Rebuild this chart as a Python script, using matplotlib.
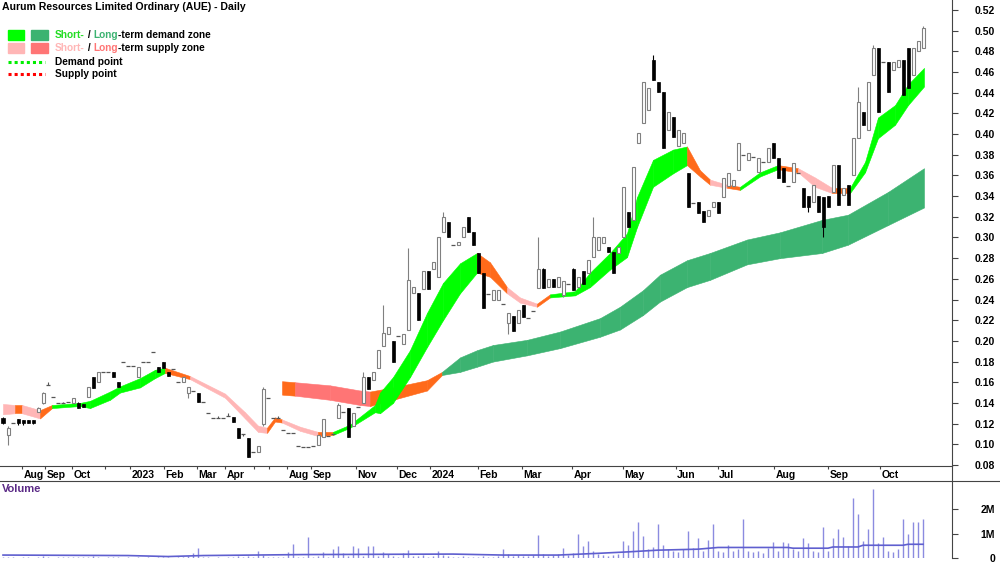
import numpy as np
import matplotlib
matplotlib.use("Agg")
import matplotlib.pyplot as plt
from matplotlib.patches import Rectangle
from matplotlib.lines import Line2D

plt.rcParams['font.family'] = ['Liberation Sans Narrow', 'Liberation Sans', 'DejaVu Sans']
plt.rcParams['font.weight'] = 'bold'

title = "Aurum Resources Limited Ordinary (AUE) - Daily"

# daily bars (trading-day index), prices in $
opens = [0.125, 0.109, 0.121, 0.124, 0.123, 0.123, 0.123, 0.131, 0.140, 0.157,
         0.146, 0.140, 0.140, 0.141, 0.140, 0.140, 0.139, 0.146, 0.165, 0.160,
         0.170, 0.170, 0.170, 0.160, 0.180, 0.176, 0.176, 0.165, 0.180, 0.180,
         0.189, 0.175, 0.180, 0.170, 0.173, 0.160, 0.160, 0.150, 0.152, 0.150,
         0.141, 0.130, 0.125, 0.125, 0.125, 0.127, 0.126, 0.116, 0.110, 0.106,
         0.093, 0.093, 0.120, 0.145, 0.125, 0.125, 0.114, 0.111, 0.111, 0.098,
         0.097, 0.097, 0.098, 0.099, 0.107, 0.108, 0.110, 0.125, 0.131, 0.135,
         0.118, 0.136, 0.140, 0.165, 0.162, 0.174, 0.195, 0.207, 0.200, 0.205,
         0.197, 0.211, 0.246, 0.246, 0.250, 0.268, 0.270, 0.262, 0.305, 0.315,
         0.293, 0.293, 0.300, 0.320, 0.305, 0.285, 0.266, 0.245, 0.240, 0.240,
         0.236, 0.217, 0.224, 0.217, 0.235, 0.222, 0.229, 0.251, 0.270, 0.252,
         0.260, 0.252, 0.244, 0.255, 0.270, 0.252, 0.268, 0.266, 0.281, 0.288,
         0.295, 0.291, 0.286, 0.285, 0.300, 0.325, 0.317, 0.391, 0.411, 0.423,
         0.472, 0.450, 0.441, 0.404, 0.417, 0.388, 0.391, 0.362, 0.333, 0.334,
         0.326, 0.321, 0.329, 0.334, 0.339, 0.350, 0.350, 0.365, 0.380, 0.375,
         0.378, 0.363, 0.373, 0.373, 0.391, 0.377, 0.367, 0.350, 0.354, 0.362,
         0.348, 0.340, 0.334, 0.340, 0.339, 0.340, 0.344, 0.370, 0.341, 0.351,
         0.360, 0.396, 0.421, 0.404, 0.457, 0.483, 0.470, 0.470, 0.462, 0.465,
         0.472, 0.483, 0.457, 0.480, 0.483]
highs = [0.126, 0.118, 0.121, 0.124, 0.123, 0.123, 0.123, 0.136, 0.151, 0.160,
         0.146, 0.140, 0.141, 0.141, 0.145, 0.141, 0.139, 0.155, 0.165, 0.170,
         0.170, 0.170, 0.170, 0.160, 0.180, 0.176, 0.176, 0.175, 0.180, 0.180,
         0.189, 0.175, 0.180, 0.170, 0.173, 0.160, 0.165, 0.155, 0.152, 0.150,
         0.141, 0.130, 0.125, 0.127, 0.125, 0.130, 0.126, 0.116, 0.110, 0.106,
         0.093, 0.098, 0.155, 0.145, 0.125, 0.127, 0.114, 0.111, 0.111, 0.098,
         0.097, 0.097, 0.098, 0.109, 0.124, 0.108, 0.110, 0.140, 0.131, 0.135,
         0.130, 0.136, 0.170, 0.165, 0.170, 0.191, 0.235, 0.213, 0.200, 0.205,
         0.207, 0.290, 0.252, 0.246, 0.268, 0.268, 0.276, 0.300, 0.325, 0.315,
         0.293, 0.296, 0.310, 0.320, 0.305, 0.285, 0.266, 0.245, 0.249, 0.249,
         0.236, 0.227, 0.224, 0.230, 0.235, 0.222, 0.229, 0.300, 0.270, 0.260,
         0.260, 0.262, 0.258, 0.255, 0.270, 0.262, 0.268, 0.278, 0.320, 0.300,
         0.300, 0.291, 0.286, 0.291, 0.349, 0.325, 0.368, 0.401, 0.450, 0.445,
         0.476, 0.450, 0.441, 0.421, 0.417, 0.404, 0.401, 0.362, 0.333, 0.334,
         0.326, 0.327, 0.334, 0.334, 0.358, 0.362, 0.356, 0.391, 0.380, 0.382,
         0.378, 0.377, 0.373, 0.387, 0.391, 0.377, 0.367, 0.350, 0.372, 0.362,
         0.348, 0.340, 0.351, 0.340, 0.339, 0.340, 0.370, 0.370, 0.348, 0.351,
         0.396, 0.446, 0.421, 0.450, 0.486, 0.483, 0.470, 0.470, 0.470, 0.472,
         0.472, 0.483, 0.483, 0.490, 0.505]
lows = [0.120, 0.099, 0.121, 0.119, 0.119, 0.121, 0.120, 0.131, 0.139, 0.157,
        0.146, 0.140, 0.140, 0.141, 0.140, 0.135, 0.136, 0.146, 0.154, 0.160,
        0.170, 0.170, 0.165, 0.155, 0.180, 0.176, 0.176, 0.165, 0.180, 0.180,
        0.189, 0.170, 0.174, 0.166, 0.173, 0.160, 0.160, 0.145, 0.152, 0.141,
        0.141, 0.130, 0.125, 0.125, 0.125, 0.127, 0.122, 0.106, 0.108, 0.088,
        0.093, 0.093, 0.118, 0.145, 0.125, 0.125, 0.114, 0.111, 0.111, 0.098,
        0.097, 0.097, 0.098, 0.099, 0.107, 0.108, 0.110, 0.125, 0.131, 0.107,
        0.118, 0.136, 0.140, 0.153, 0.162, 0.174, 0.195, 0.207, 0.180, 0.205,
        0.197, 0.211, 0.246, 0.220, 0.250, 0.250, 0.270, 0.262, 0.305, 0.300,
        0.293, 0.293, 0.300, 0.305, 0.293, 0.266, 0.232, 0.245, 0.240, 0.240,
        0.236, 0.207, 0.210, 0.217, 0.223, 0.222, 0.229, 0.251, 0.251, 0.252,
        0.252, 0.252, 0.242, 0.255, 0.249, 0.252, 0.255, 0.266, 0.281, 0.288,
        0.295, 0.286, 0.266, 0.285, 0.300, 0.310, 0.317, 0.391, 0.411, 0.423,
        0.452, 0.441, 0.387, 0.404, 0.397, 0.388, 0.391, 0.329, 0.333, 0.324,
        0.315, 0.321, 0.329, 0.324, 0.339, 0.350, 0.350, 0.365, 0.380, 0.375,
        0.378, 0.363, 0.373, 0.373, 0.377, 0.358, 0.354, 0.350, 0.354, 0.362,
        0.329, 0.325, 0.334, 0.325, 0.300, 0.329, 0.344, 0.331, 0.341, 0.331,
        0.360, 0.396, 0.409, 0.404, 0.457, 0.421, 0.470, 0.441, 0.462, 0.465,
        0.438, 0.445, 0.457, 0.480, 0.483]
closes = [0.121, 0.116, 0.121, 0.121, 0.121, 0.121, 0.121, 0.135, 0.150, 0.157,
          0.146, 0.140, 0.140, 0.141, 0.145, 0.135, 0.136, 0.155, 0.154, 0.170,
          0.170, 0.170, 0.165, 0.155, 0.180, 0.176, 0.176, 0.175, 0.180, 0.180,
          0.189, 0.170, 0.174, 0.166, 0.173, 0.160, 0.165, 0.155, 0.152, 0.141,
          0.141, 0.130, 0.125, 0.125, 0.125, 0.127, 0.122, 0.106, 0.110, 0.088,
          0.093, 0.098, 0.153, 0.145, 0.125, 0.125, 0.114, 0.111, 0.111, 0.098,
          0.097, 0.097, 0.098, 0.109, 0.124, 0.108, 0.110, 0.138, 0.131, 0.107,
          0.130, 0.136, 0.165, 0.153, 0.170, 0.191, 0.208, 0.213, 0.180, 0.205,
          0.207, 0.259, 0.252, 0.220, 0.268, 0.250, 0.276, 0.300, 0.320, 0.300,
          0.293, 0.296, 0.310, 0.305, 0.293, 0.266, 0.232, 0.245, 0.249, 0.249,
          0.236, 0.227, 0.210, 0.230, 0.223, 0.222, 0.229, 0.270, 0.251, 0.260,
          0.252, 0.262, 0.258, 0.255, 0.249, 0.262, 0.255, 0.278, 0.300, 0.300,
          0.300, 0.286, 0.266, 0.291, 0.349, 0.310, 0.368, 0.401, 0.450, 0.445,
          0.452, 0.441, 0.387, 0.421, 0.397, 0.404, 0.401, 0.329, 0.333, 0.324,
          0.315, 0.327, 0.334, 0.324, 0.358, 0.362, 0.356, 0.391, 0.380, 0.382,
          0.378, 0.377, 0.373, 0.387, 0.377, 0.358, 0.354, 0.350, 0.372, 0.362,
          0.329, 0.329, 0.351, 0.325, 0.310, 0.329, 0.370, 0.331, 0.348, 0.331,
          0.396, 0.431, 0.409, 0.450, 0.483, 0.421, 0.470, 0.441, 0.470, 0.472,
          0.438, 0.445, 0.483, 0.490, 0.503]
# volume in millions of shares
volumes = [0.05, 0.03, 0.04, 0.02, 0.05, 0.03, 0.02, 0.06, 0.08, 0.03,
           0.02, 0.04, 0.03, 0.05, 0.04, 0.06, 0.03, 0.05, 0.07, 0.04,
           0.02, 0.03, 0.05, 0.04, 0.02, 0.03, 0.02, 0.04, 0.02, 0.03,
           0.02, 0.04, 0.05, 0.03, 0.02, 0.03, 0.06, 0.08, 0.20, 0.40,
           0.05, 0.03, 0.02, 0.04, 0.02, 0.05, 0.06, 0.08, 0.04, 0.10,
           0.05, 0.30, 0.12, 0.05, 0.03, 0.04, 0.06, 0.25, 0.56, 0.05,
           0.04, 0.87, 0.05, 0.08, 0.25, 0.06, 0.38, 0.50, 0.20, 0.10,
           0.47, 0.40, 0.08, 0.48, 0.48, 0.10, 0.25, 0.15, 0.08, 0.05,
           0.20, 0.33, 0.10, 0.08, 0.12, 0.06, 0.10, 0.30, 0.12, 0.08,
           0.05, 0.06, 0.08, 0.05, 0.04, 0.06, 0.08, 0.05, 0.06, 0.10,
           0.35, 0.15, 0.10, 0.12, 0.08, 0.10, 0.12, 0.95, 0.15, 0.10,
           0.12, 0.15, 0.40, 0.12, 0.20, 1.00, 0.50, 0.70, 0.30, 0.15,
           0.12, 0.10, 0.12, 0.15, 0.70, 0.55, 1.10, 1.45, 0.90, 0.35,
           0.45, 1.40, 0.55, 0.35, 0.30, 0.25, 0.35, 1.10, 0.40, 0.80,
           0.30, 0.72, 1.40, 0.30, 0.25, 0.53, 0.30, 0.35, 1.60, 0.30,
           0.25, 0.30, 0.20, 0.40, 0.65, 0.30, 0.65, 0.60, 0.35, 0.30,
           0.80, 0.60, 0.30, 0.25, 1.25, 0.30, 0.80, 1.20, 0.85, 0.50,
           2.45, 1.80, 0.70, 1.20, 2.80, 0.60, 0.85, 0.30, 0.25, 0.35,
           1.60, 1.00, 1.45, 1.45, 1.60]
vol_avg_x = [0, 25, 33, 40, 60, 90, 100, 111, 119, 125, 131, 139, 143, 157, 158,
             165, 166, 171, 172, 180, 181, 184]
vol_avg = [0.12, 0.10, 0.06, 0.10, 0.14, 0.16, 0.12, 0.12, 0.19, 0.25, 0.32, 0.36,
           0.43, 0.43, 0.40, 0.40, 0.45, 0.45, 0.52, 0.52, 0.56, 0.56]

# short-term zone edges; state D=demand, S=supply, T=transition
st_x = [0, 2.4, 3.8, 7.4, 9.8, 15.4, 17.4, 21.4, 23.4, 27.4, 30.4, 32.4, 37.4, 44.4,
        48.4, 51, 52.8, 54.4, 55.8, 59.4, 63, 66, 69.4, 74.4, 75.4, 78, 81.4, 84.8,
        88, 91.4, 94.8, 97.4, 100.8, 103.4, 106.8, 109.4, 114.4, 117.4, 121.4, 124.8,
        126.8, 130, 134, 136.8, 139.4, 141.4, 144.8, 147.4, 151.4, 155, 159, 162.4,
        165.8, 169.4, 172.4, 175, 178.4, 181, 184.2]
st_hi = [0.139, 0.138, 0.138, 0.133, 0.138, 0.140, 0.142, 0.151, 0.156, 0.164,
         0.172, 0.174, 0.166, 0.149, 0.131, 0.118, 0.116, 0.126, 0.124, 0.117,
         0.112, 0.112, 0.119, 0.138, 0.150, 0.165, 0.191, 0.227, 0.256, 0.275,
         0.285, 0.276, 0.252, 0.242, 0.236, 0.245, 0.248, 0.266, 0.285, 0.304,
         0.339, 0.375, 0.385, 0.388, 0.365, 0.356, 0.351, 0.349, 0.363, 0.370,
         0.367, 0.358, 0.348, 0.348, 0.373, 0.416, 0.428, 0.448, 0.464]
st_lo = [0.129, 0.130, 0.130, 0.125, 0.135, 0.137, 0.135, 0.143, 0.150, 0.155,
         0.164, 0.169, 0.163, 0.145, 0.125, 0.112, 0.111, 0.122, 0.121, 0.113,
         0.108, 0.109, 0.116, 0.131, 0.130, 0.140, 0.165, 0.194, 0.220, 0.246,
         0.266, 0.262, 0.246, 0.237, 0.233, 0.242, 0.244, 0.252, 0.269, 0.281,
         0.310, 0.349, 0.362, 0.370, 0.359, 0.351, 0.348, 0.346, 0.359, 0.366,
         0.363, 0.349, 0.343, 0.343, 0.363, 0.396, 0.409, 0.428, 0.446]
st_state = "STSTDDDDDDDTSSSSTTSSTDDDDDDDDDTTSSTDDDDDDDDTTSTDDTSSTDDDDDD"

# long-term zone edges
lt_x = [55.8, 58.4, 65.4, 71.4, 73.4, 78, 84.8, 87.8, 91.4, 94.8, 98, 104.8, 111.4,
        119.4, 123.4, 128, 131.4, 136.8, 141.4, 148.8, 155.4, 163.8, 169, 177, 184.2]
lt_hi = [0.161, 0.160, 0.157, 0.152, 0.151, 0.155, 0.162, 0.170, 0.184, 0.191,
         0.196, 0.201, 0.209, 0.222, 0.233, 0.249, 0.264, 0.278, 0.285, 0.298,
         0.305, 0.317, 0.322, 0.344, 0.367]
lt_lo = [0.148, 0.147, 0.143, 0.138, 0.137, 0.143, 0.152, 0.167, 0.170, 0.175,
         0.180, 0.186, 0.193, 0.204, 0.211, 0.225, 0.238, 0.252, 0.259, 0.274,
         0.280, 0.285, 0.293, 0.312, 0.329]
lt_state = "TSSSTTTDDDDDDDDDDDDDDDDDD"

month_pos = [3.8, 8.4, 13.8, 20.4, 25.4, 32.2, 38.8, 44.4, 50.2, 53.2, 56.8, 61.6,
             70.6, 78.8, 85.4, 95, 103.8, 113.8, 124, 134.6, 143, 154.2, 165, 175.4]
month_lab = ["Aug", "Sep", "Oct", "", "2023", "Feb", "Mar", "Apr", "", "", "Aug", "Sep",
             "Nov", "Dec", "2024", "Feb", "Mar", "Apr", "May", "Jun", "Jul", "Aug", "Sep", "Oct"]

short_cols = {"D": "#00ff00", "S": "#ffb6b6", "T": "#ff6a1a"}
long_cols = {"D": "#3cb371", "S": "#ff7575", "T": "#ff6a1a"}

W, H = 1000, 562


def fx(px):
    return px / W


def fy(py):
    return 1 - py / H


def draw_zone(ax, xs, hi, lo, states, cols):
    for k in range(len(xs) - 1):
        c = cols[states[k]]
        ax.fill_between(xs[k:k + 2], lo[k:k + 2], hi[k:k + 2], facecolor=c,
                        edgecolor=c, linewidth=0.4, zorder=1)


fig = plt.figure(figsize=(10, 5.62), dpi=100)
XL = (-0.6, 189.8)
axis_col = "#444444"

# ---- price panel
ax = fig.add_axes([0, fy(466), fx(952), 466 / H])
draw_zone(ax, lt_x, lt_hi, lt_lo, lt_state, long_cols)
draw_zone(ax, st_x, st_hi, st_lo, st_state, short_cols)

o = np.array(opens)
hh = np.array(highs)
ll = np.array(lows)
c = np.array(closes)
x = np.arange(len(c))
up = c > o
dn = c < o
fl = c == o
wick_cols = np.where(up, "#808080", np.where(dn, "black", "#555555"))
ax.vlines(x, ll, hh, colors=wick_cols, lw=0.8, zorder=3)
ax.bar(x[up], (c - o)[up], bottom=o[up], width=0.6, facecolor="white",
       edgecolor="#808080", linewidth=0.8, zorder=4)
ax.bar(x[dn], (o - c)[dn], bottom=c[dn], width=0.6, facecolor="black",
       edgecolor="black", linewidth=0.5, zorder=4)
ax.hlines(c[fl], x[fl] - 0.4, x[fl] + 0.4, colors="#555555", lw=0.9, zorder=4)

ax.set_xlim(*XL)
ax.set_ylim(0.52 - 456 / 1034, 0.52 + 10 / 1034)
ax.set_xticks([])
ax.yaxis.tick_right()
yt = np.arange(0.08, 0.521, 0.02)
ax.set_yticks(yt)
ax.set_yticklabels([f"{v:.2f}" for v in yt])
for s in ["top", "left"]:
    ax.spines[s].set_visible(False)
for s in ["right", "bottom"]:
    ax.spines[s].set_color(axis_col)
    ax.spines[s].set_linewidth(0.8)
ax.tick_params(axis="y", direction="out", length=4, width=0.8, color=axis_col,
               labelsize=7.5, pad=27)
for t in ax.get_yticklabels():
    t.set_ha("right")

# ---- date band
axd = fig.add_axes([0, fy(481), fx(952), 15 / H])
axd.set_xlim(*XL)
axd.set_ylim(0, 1)
axd.axis("off")
axd.vlines(month_pos, 0.78, 1.0, colors=axis_col, lw=0.8)
for p, lab in zip(month_pos, month_lab):
    axd.text(p + 0.25, 0.42, lab, ha="left", va="center", fontsize=7.5)
fig.add_artist(Line2D([0, 1], [fy(481), fy(481)], color=axis_col, lw=0.8))
fig.add_artist(Line2D([fx(952), fx(952)], [fy(481), fy(466)], color=axis_col, lw=0.8))

# ---- volume panel
axv = fig.add_axes([0, fy(558), fx(952), (558 - 482) / H])
axv.vlines(x, 0, volumes, colors="#8b8be0", lw=1.0)
axv.plot(vol_avg_x, vol_avg, color="#5f5fcf", lw=1.2)
axv.set_xlim(*XL)
axv.set_ylim(0, 76 / 24.5)
axv.set_xticks([])
axv.yaxis.tick_right()
axv.set_yticks([0, 1, 2])
axv.set_yticklabels(["0", "1M", "2M"])
for s in ["top", "left", "bottom"]:
    axv.spines[s].set_visible(False)
axv.spines["right"].set_color(axis_col)
axv.spines["right"].set_linewidth(0.8)
axv.tick_params(axis="y", direction="out", length=4, width=0.8, color=axis_col,
                labelsize=7.5, pad=27)
for t in axv.get_yticklabels():
    t.set_ha("right")
fig.text(fx(2), fy(489), "Volume", color="#5b2a86", fontsize=8, va="center")

# ---- title & legend
fig.text(fx(2), fy(7), title, fontsize=7.6, va="center")

fig.add_artist(Rectangle((fx(8), fy(40)), fx(16), 10 / H, transform=fig.transFigure,
                         color=short_cols["D"]))
fig.add_artist(Rectangle((fx(31), fy(40)), fx(17), 10 / H, transform=fig.transFigure,
                         color=long_cols["D"]))
fig.add_artist(Rectangle((fx(8), fy(53)), fx(16), 10 / H, transform=fig.transFigure,
                         color=short_cols["S"]))
fig.add_artist(Rectangle((fx(31), fy(53)), fx(17), 10 / H, transform=fig.transFigure,
                         color=long_cols["S"]))
fig.add_artist(Line2D([fx(8), fx(45)], [fy(62), fy(62)], color="#00ee00", lw=2.2,
                      ls=(0, (1, 1))))
fig.add_artist(Line2D([fx(8), fx(45)], [fy(74), fy(74)], color="#ff0000", lw=2.2,
                      ls=(0, (1, 1))))


def rich(px, py, parts, size):
    r = fig.canvas.get_renderer()
    xx = fx(px)
    for s, col in parts:
        t = fig.text(xx, fy(py), s, color=col, fontsize=size, va="center")
        xx += t.get_window_extent(r).width / fig.bbox.width


rich(55, 35, [("Short-", "#22dd22"), (" / ", "black"), ("Long", "#3cb371"),
              ("-term demand zone", "black")], 7.3)
rich(55, 48, [("Short-", "#ffb6b6"), (" / ", "black"), ("Long", "#ff7575"),
              ("-term supply zone", "black")], 7.3)
fig.text(fx(55), fy(62), "Demand point", fontsize=7.3, va="center")
fig.text(fx(55), fy(74), "Supply point", fontsize=7.3, va="center")

fig.savefig("out.png", dpi=100)
